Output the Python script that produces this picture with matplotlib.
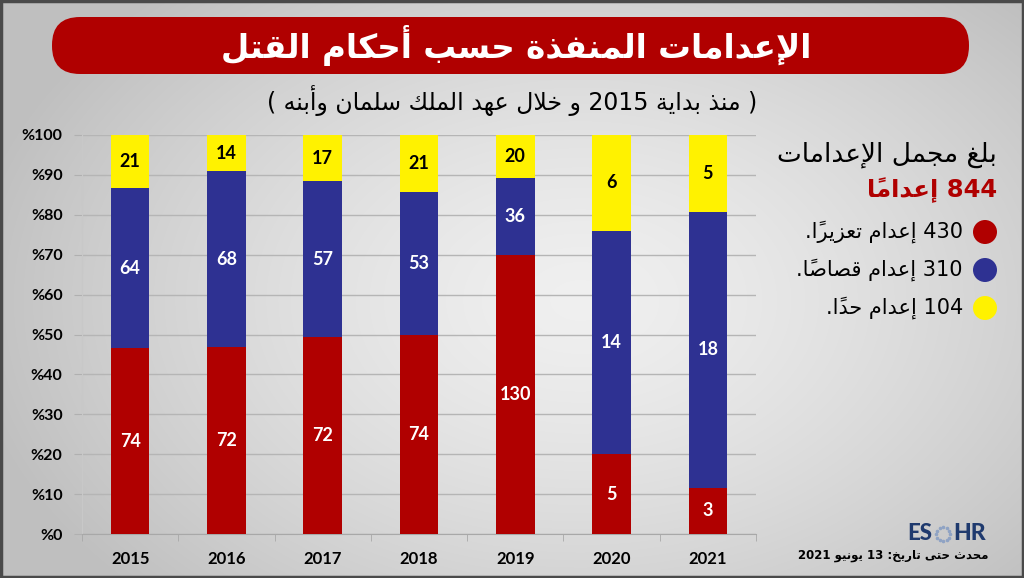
import numpy as np
import matplotlib
matplotlib.use("Agg")
import matplotlib.pyplot as plt
from matplotlib.patches import FancyBboxPatch, Rectangle, Circle

years = ["2015", "2016", "2017", "2018", "2019", "2020", "2021"]
tazir = [74, 72, 72, 74, 130, 5, 3]    # red
qisas = [64, 68, 57, 53, 36, 14, 18]   # blue
hadd = [21, 14, 17, 21, 20, 6, 5]      # yellow
y_ticks = [0, 10, 20, 30, 40, 50, 60, 70, 80, 90, 100]

title = "الإعدامات المنفذة حسب أحكام القتل"
subtitle = "( منذ بداية 2015 و خلال عهد الملك سلمان وأبنه )"
legend_head = "بلغ مجمل الإعدامات"
legend_total = "844 إعدامًا"
legend_rows = ["430 إعدام تعزيرًا.", "310 إعدام قصاصًا.", "104 إعدام حدًا."]
updated = "محدث حتى تاريخ: 13 يونيو 2021"

RED = "#b00000"
BLUE = "#2e3192"
YELLOW = "#fff200"

# --- minimal Arabic shaping (matplotlib has no complex text layout) ---
DUAL = {"ب": 0xFE8F, "ت": 0xFE95, "ث": 0xFE99, "ج": 0xFE9D, "ح": 0xFEA1, "خ": 0xFEA5,
        "س": 0xFEB1, "ش": 0xFEB5, "ص": 0xFEB9, "ض": 0xFEBD, "ط": 0xFEC1, "ظ": 0xFEC5,
        "ع": 0xFEC9, "غ": 0xFECD, "ف": 0xFED1, "ق": 0xFED5, "ك": 0xFED9, "ل": 0xFEDD,
        "م": 0xFEE1, "ن": 0xFEE5, "ه": 0xFEE9, "ي": 0xFEF1}
RIGHT = {"ا": 0xFE8D, "أ": 0xFE83, "إ": 0xFE87, "آ": 0xFE81, "د": 0xFEA9, "ذ": 0xFEAB,
         "ر": 0xFEAD, "ز": 0xFEAF, "و": 0xFEED, "ى": 0xFEEF, "ة": 0xFE93, "ؤ": 0xFE85,
         "لا": 0xFEFB, "لأ": 0xFEF7, "لإ": 0xFEF9, "لآ": 0xFEF5}
MARKS = set(chr(c) for c in range(0x064B, 0x0653))
MIRROR = {"(": ")", ")": "("}


def ar(text):
    toks = []  # [base, marks]
    i = 0
    while i < len(text):
        c = text[i]
        if c in MARKS and toks:
            toks[-1][1] += c
        elif c == "ل" and i + 1 < len(text) and ("ل" + text[i + 1]) in RIGHT:
            toks.append(["ل" + text[i + 1], ""])
            i += 1
        else:
            toks.append([c, ""])
        i += 1
    glyphs = []
    for k, (b, m) in enumerate(toks):
        prev = toks[k - 1][0] if k > 0 else None
        nxt = toks[k + 1][0] if k + 1 < len(toks) else None
        pj = prev in DUAL
        nj = b in DUAL and (nxt in DUAL or nxt in RIGHT)
        if b in DUAL:
            off = 3 if (pj and nj) else 1 if pj else 2 if nj else 0
            g = chr(DUAL[b] + off)
        elif b in RIGHT:
            g = chr(RIGHT[b] + (1 if pj else 0))
        else:
            g = MIRROR.get(b, b)
        # mark goes in front of its base in visual order so it sits over it
        glyphs.append([m + g, b.isdigit()])
    # keep digit runs left-to-right, reverse everything else
    runs = []
    for g, d in glyphs:
        if d and runs and runs[-1][1]:
            runs[-1][0] += g
        else:
            runs.append([g, d])
    return "".join(g for g, _ in reversed(runs))


AR_FONT = ["DejaVu Sans"]
NUM_FONT = ["Lato", "DejaVu Sans"]

W, H = 1024, 578
fig = plt.figure(figsize=(W / 100, H / 100), dpi=100)

# background gradient + decorations in pixel coordinates
bg = fig.add_axes([0, 0, 1, 1], zorder=0)
bg.set_xlim(0, W)
bg.set_ylim(H, 0)
bg.axis("off")
yy, xx = np.mgrid[0:H, 0:W]
r = np.sqrt(((xx - 580) / 620.0) ** 2 + ((yy - 300) / 420.0) ** 2)
shade = 0.94 - 0.19 * np.clip(r, 0, 1) ** 1.4
bg.imshow(np.dstack([shade] * 3), extent=(0, W, H, 0), aspect="auto", zorder=0)
bg.add_patch(Rectangle((1, 1), W - 2, H - 2, fill=False, edgecolor="#4a4a4a", lw=2.5, zorder=5))

bg.add_patch(FancyBboxPatch((24 + 28, 17), 973 - 56, 57, boxstyle="round,pad=0,rounding_size=28",
                            mutation_aspect=1, facecolor=RED, edgecolor="none", zorder=2))
bg.text(516, 46, ar(title), color="white", fontsize=23.5, fontweight="bold", family=AR_FONT,
        ha="center", va="center", zorder=3)
bg.text(512, 101, ar(subtitle), color="black", fontsize=17, family=AR_FONT,
        ha="center", va="center", zorder=3)

# legend block
bg.text(997, 155, ar(legend_head), fontsize=19, family=AR_FONT, ha="right", va="center", zorder=3)
bg.text(997, 190, ar(legend_total), fontsize=17.5, fontweight="bold", color=RED, family=AR_FONT,
        ha="right", va="center", zorder=3)
for yc, col, label in zip([232, 270, 308], [RED, BLUE, YELLOW], legend_rows):
    bg.add_patch(Circle((985, yc), 12, facecolor=col, edgecolor="none", zorder=3))
    bg.text(963, yc, ar(label), fontsize=15, family=AR_FONT, ha="right", va="center", zorder=3)

# ESOHR logo + update date
bg.text(907, 534, "ES", fontsize=16, fontweight="black", color="#1f3a6e", family=NUM_FONT,
        ha="left", va="center", zorder=3)
ang = np.linspace(0, 2 * np.pi, 12, endpoint=False)
bg.scatter(943 + 7 * np.cos(ang), 534 + 7 * np.sin(ang), s=2.5, color="#8fa3c4", zorder=3)
bg.text(953, 534, "HR", fontsize=16.5, fontweight="black", color="#1f3a6e", family=NUM_FONT,
        ha="left", va="center", zorder=3)
bg.text(988, 555, ar(updated), fontsize=8.5, fontweight="bold", family=AR_FONT,
        ha="right", va="center", zorder=3)

# stacked 100% bar chart
ax = fig.add_axes([82 / W, 1 - 534 / H, (756 - 82) / W, (534 - 135) / H], zorder=1)
ax.set_facecolor("none")
totals = np.array(tazir) + np.array(qisas) + np.array(hadd)
x = np.arange(len(years))
bottom = np.zeros(len(years))
for vals, col, txt in [(tazir, RED, "white"), (qisas, BLUE, "white"), (hadd, YELLOW, "black")]:
    pct = np.array(vals) / totals * 100
    bars = ax.bar(x, pct, 0.4, bottom=bottom, color=col, zorder=3)
    ax.bar_label(bars, labels=[str(v) for v in vals], label_type="center", color=txt,
                 fontsize=13, fontweight="bold", family=NUM_FONT)
    bottom += pct

ax.set_xlim(-0.5, len(years) - 0.5)
ax.set_ylim(0, 100)
ax.set_yticks(y_ticks)
ax.set_yticklabels([f"%{v}" for v in y_ticks], fontsize=11.5, fontweight="bold", family=NUM_FONT)
ax.set_xticks(x)
ax.set_xticklabels(years, fontsize=12, fontweight="bold", family=NUM_FONT)
ax.set_xticks(np.arange(-0.5, len(years)), minor=True)
ax.tick_params(axis="x", which="major", length=0, pad=12)
ax.tick_params(axis="x", which="minor", length=5, color="#a8a8a8")
ax.tick_params(axis="y", length=6, color="#b0b0b0", pad=8)
ax.grid(axis="y", color="#b5b5b5", lw=1, zorder=0)
for side in ["top", "right"]:
    ax.spines[side].set_visible(False)
ax.spines["left"].set_color("#c8c8c8")
ax.spines["bottom"].set_color("#a8a8a8")

fig.savefig("out.png", dpi=100)
